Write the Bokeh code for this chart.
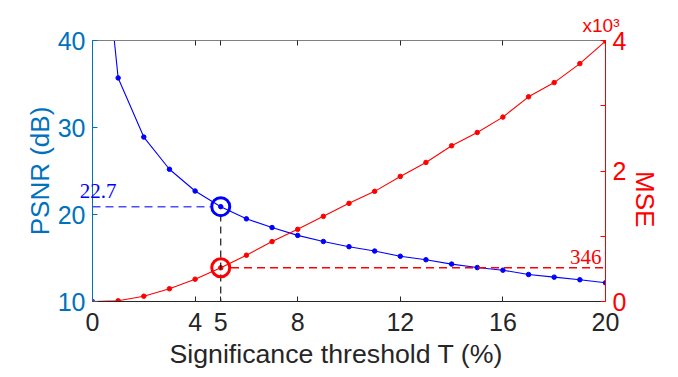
import math
from bokeh.plotting import figure
from bokeh.models import Range1d, LinearAxis, FixedTicker, Label, Title
from bokeh.embed import file_html
from bokeh.resources import INLINE

# ---- data ----
T = [0, 1, 2, 3, 4, 5, 6, 7, 8, 9, 10, 11, 12, 13, 14, 15, 16, 17, 18, 19, 20]
psnr = [64.4, 35.7, 28.9, 25.2, 22.7, 20.9, 19.5, 18.5, 17.6, 16.9, 16.3,
        15.8, 15.2, 14.8, 14.3, 13.9, 13.6, 13.1, 12.8, 12.5, 12.15]
mse = [0, 11, 81, 195, 342, 517, 709, 918, 1106, 1305, 1504,
       1688, 1917, 2131, 2387, 2590, 2826, 3137, 3355, 3646, 3990]
x_ticks = [0, 4, 5, 8, 12, 16, 20]
psnr_ticks = [10, 20, 30, 40]
mse_label_ticks = [0, 2000, 4000]
mse_minor_ticks = [1000, 3000]
mse_tick_labels = {0: "0", 2000: "2", 4000: "4"}
sel_T = 5
sel_psnr = 20.9
sel_mse = 517
psnr_note_value = 22.7
psnr_note = "22.7"
mse_note = "346"
mse_scale_note = "x10\u00b3"

BLUE_AX = "#0072BD"
BLUE = "#0000FF"
RED = "#FF0000"
DARK = "#262626"
SANS = "Liberation Sans"
SERIF = "Liberation Serif"

x0, x1 = 0, 20
y0, y1 = 10, 40
m0, m1 = 0, 4000

p = figure(width=678, height=377, output_backend="svg", toolbar_location=None,
           x_range=Range1d(x0, x1), y_range=Range1d(y0, y1),
           min_border_left=92, min_border_right=72,
           min_border_top=40, min_border_bottom=76)
p.extra_y_ranges = {"mse": Range1d(m0, m1)}
p.grid.visible = False
p.outline_line_color = None
p.background_fill_color = "white"
p.border_fill_color = "white"

# bottom axis
xa = p.xaxis[0]
xa.ticker = FixedTicker(ticks=x_ticks)
xa.axis_line_color = DARK
xa.major_tick_line_color = DARK
xa.major_tick_in = 5
xa.major_tick_out = 0
xa.minor_tick_line_color = None
xa.major_label_text_font = SANS
xa.major_label_text_font_size = "25px"
xa.major_label_text_color = DARK
xa.major_label_standoff = 11

p.add_layout(Title(text="Significance threshold T (%)", align="left", offset=77,
                   standoff=6, text_font=SANS, text_font_size="26.7px",
                   text_font_style="normal", text_color=DARK), "below")

# left axis
ya = p.yaxis[0]
ya.ticker = FixedTicker(ticks=psnr_ticks)
ya.axis_line_color = BLUE_AX
ya.major_tick_line_color = BLUE_AX
ya.major_tick_in = 5
ya.major_tick_out = 0
ya.minor_tick_line_color = None
ya.major_label_text_font = SANS
ya.major_label_text_font_size = "25px"
ya.major_label_text_color = BLUE_AX
ya.major_label_standoff = 7
ya.axis_label = "PSNR (dB)"
ya.axis_label_text_font = SANS
ya.axis_label_text_font_size = "26px"
ya.axis_label_text_font_style = "normal"
ya.axis_label_text_color = BLUE_AX
ya.axis_label_standoff = 0

# PSNR note, drawn as a single-tick axis so it can overlap the left spine
na = LinearAxis(ticker=FixedTicker(ticks=[psnr_note_value]),
                major_label_overrides={psnr_note_value: psnr_note})
na.axis_line_color = None
na.major_tick_line_color = None
na.minor_tick_line_color = None
na.major_tick_in = 0
na.major_tick_out = 0
na.major_label_text_font = SERIF
na.major_label_text_font_size = "21px"
na.major_label_text_color = BLUE
na.major_label_standoff = -95
p.add_layout(na, "left")

# right axis
ra = LinearAxis(y_range_name="mse",
                ticker=FixedTicker(ticks=mse_label_ticks, minor_ticks=mse_minor_ticks),
                major_label_overrides=mse_tick_labels)
ra.axis_line_color = RED
ra.major_tick_line_color = RED
ra.major_tick_in = 5
ra.major_tick_out = 0
ra.minor_tick_line_color = RED
ra.minor_tick_in = 5
ra.minor_tick_out = 0
ra.major_label_text_font = SANS
ra.major_label_text_font_size = "25px"
ra.major_label_text_color = RED
ra.major_label_standoff = 7
ra.axis_label = "MSE"
ra.axis_label_text_font = SANS
ra.axis_label_text_font_size = "26px"
ra.axis_label_text_font_style = "normal"
ra.axis_label_text_color = RED
ra.axis_label_standoff = 16
ra.axis_label_orientation = -math.pi / 2
p.add_layout(ra, "right")

# top box line with ticks (no labels)
ta = LinearAxis(ticker=FixedTicker(ticks=[], minor_ticks=x_ticks))
ta.axis_line_color = "#808080"
ta.major_tick_line_color = None
ta.minor_tick_line_color = DARK
ta.minor_tick_in = 5
ta.minor_tick_out = 0
ta.major_label_text_color = None
ta.major_label_standoff = 0
p.add_layout(ta, "above")

p.add_layout(Title(text=mse_scale_note, align="right", offset=-14, standoff=9,
                   text_font=SANS, text_font_size="19px",
                   text_font_style="normal", text_color=RED), "above")

# curves
p.line(T, psnr, line_color=BLUE, line_width=1.1)
p.scatter(T, psnr, size=4.5, fill_color=BLUE, line_color=BLUE)
p.line(T, mse, y_range_name="mse", line_color=RED, line_width=1.1)
p.scatter(T, mse, y_range_name="mse", size=4.5, fill_color=RED, line_color=RED)

# guides
p.segment(x0=[x0], y0=[sel_psnr], x1=[sel_T - 0.4], y1=[sel_psnr],
          line_color="#4d4dff", line_width=1.5, line_dash="8 5")
p.segment(x0=[sel_T], y0=[sel_psnr - 0.9], x1=[sel_T], y1=[y0],
          line_color="black", line_width=1.1, line_dash="7 5")
p.segment(x0=[sel_T + 0.4], y0=[sel_mse], x1=[x1], y1=[sel_mse], y_range_name="mse",
          line_color=RED, line_width=1.5, line_dash="8 5")
p.scatter([sel_T], [sel_psnr], size=18, fill_color=None, line_color=BLUE, line_width=3)
p.scatter([sel_T], [sel_mse], y_range_name="mse", size=18, fill_color=None,
          line_color=RED, line_width=3)

p.add_layout(Label(x=x1, y=sel_mse, y_range_name="mse", text=mse_note,
                   x_offset=-4, y_offset=4, text_font=SERIF, text_font_size="21px",
                   text_color=RED, text_baseline="bottom", text_align="right"))

open("out.html", "w").write(file_html(p, INLINE))
